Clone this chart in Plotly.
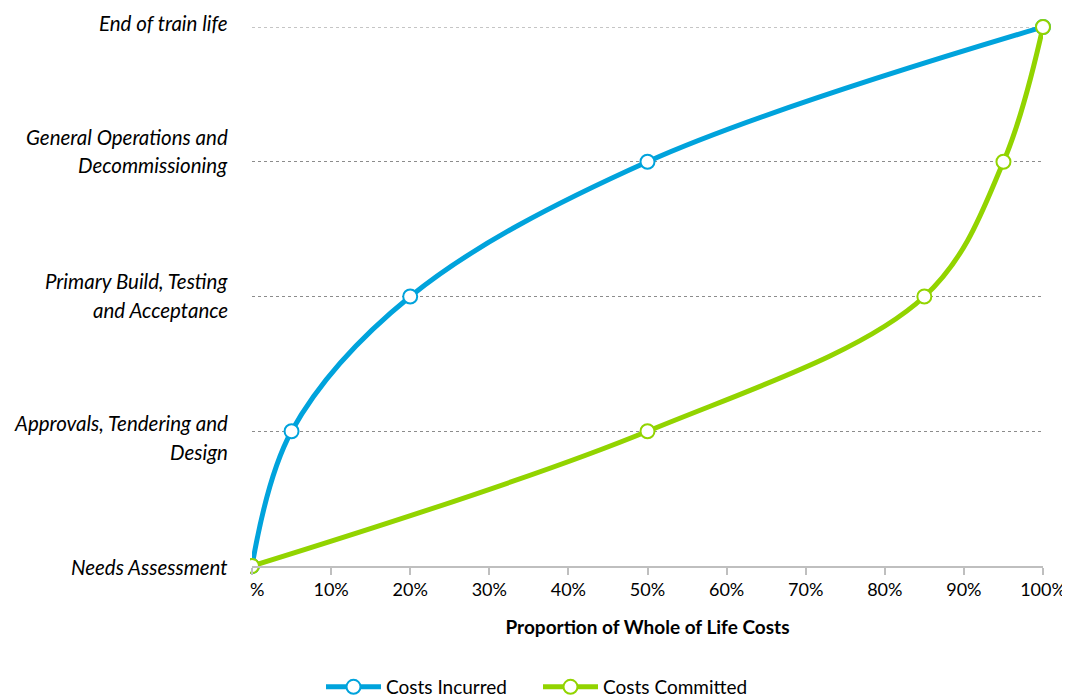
import plotly.graph_objects as go

# ---- data ----
stage_labels = [
    "Needs Assessment",
    "Approvals, Tendering and<br>Design",
    "Primary Build, Testing<br>and Acceptance",
    "General Operations and<br>Decommissioning",
    "End of train life",
]
stage_levels = [0, 1, 2, 3, 4]

incurred_x = [0, 5, 20, 50, 100]
incurred_y = [0, 1, 2, 3, 4]
committed_x = [0, 50, 85, 95, 100]
committed_y = [0, 1, 2, 3, 4]

x_ticks = [0, 10, 20, 30, 40, 50, 60, 70, 80, 90, 100]

BLUE = "#00A3DC"
GREEN = "#92D400"
FONT = "Lato"

# page body has an 8px margin; layout below is expressed in window pixels
OFF = 8
W, H = 1070 - OFF, 698 - OFF
PLOT_L, PLOT_R, PLOT_T, PLOT_B = 252, 1043, 27, 566
ML = PLOT_L - OFF
MT = PLOT_T - OFF
MR = (W + OFF) - PLOT_R
MB = (H + OFF) - PLOT_B
PW = PLOT_R - PLOT_L
PH = PLOT_B - PLOT_T

fig = go.Figure()
fig.add_trace(go.Scatter(
    x=incurred_x, y=incurred_y, name="Costs Incurred",
    mode="lines+markers", line=dict(color=BLUE, width=5, shape="spline", smoothing=1),
    marker=dict(size=14, color="white", line=dict(color=BLUE, width=2)),
    cliponaxis=False,
))
fig.add_trace(go.Scatter(
    x=committed_x, y=committed_y, name="Costs Committed",
    mode="lines+markers", line=dict(color=GREEN, width=5, shape="spline", smoothing=1),
    marker=dict(size=14, color="white", line=dict(color=GREEN, width=2)),
    cliponaxis=False,
))

# top gridline (plotly skips gridlines on the plot edge)
fig.add_shape(type="line", xref="paper", yref="y", x0=0, x1=1,
              y0=stage_levels[-1], y1=stage_levels[-1],
              line=dict(color="#8C8C8C", width=1, dash="dot"), layer="below")

# white mask left of plot area (hides part of the marker and tick label as in the original)
fig.add_shape(type="rect", xref="paper", yref="paper", x0=-0.35, x1=(250 - PLOT_L) / PW,
              y0=-0.1, y1=1.05, fillcolor="white", line=dict(width=0), layer="above")

# y stage labels (one annotation per text line)
line_centers = {
    0: [567],
    1: [423, 452],
    2: [281, 310],
    3: [137, 165],
    4: [23],
}
for lvl, lab in zip(stage_levels, stage_labels):
    parts = lab.split("<br>")
    for part, cy in zip(parts, line_centers[lvl]):
        fig.add_annotation(
            text=f"<i>{part}</i>", xref="paper", yref="paper",
            x=(230 - PLOT_L) / PW, y=(PLOT_B - cy) / PH,
            xanchor="right", yanchor="middle", showarrow=False,
            font=dict(family=FONT, size=20.5, color="#000000"),
        )

fig.update_layout(
    width=W, height=H, autosize=False,
    margin=dict(l=ML, r=MR, t=MT, b=MB, pad=0, autoexpand=False),
    paper_bgcolor="white", plot_bgcolor="white",
    font=dict(family=FONT, color="#000000"),
    showlegend=True,
    legend=dict(orientation="h", xref="container", yref="container",
                x=(538 - OFF) / W, y=1 - (687 - OFF) / H, xanchor="center", yanchor="middle",
                font=dict(family=FONT, size=19), itemwidth=55, entrywidth=147,
                traceorder="normal"),
    xaxis=dict(
        range=[0, 100], tickvals=x_ticks, ticktext=[f"{v}%" for v in x_ticks],
        showgrid=False, zeroline=False, automargin=False,
        showline=True, linecolor="#BFBFBF", linewidth=1.5,
        ticks="outside", ticklen=7, tickcolor="#BFBFBF", tickwidth=1.5,
        tickfont=dict(family=FONT, size=18, color="#000000"),
        title=dict(text="<b>Proportion of Whole of Life Costs</b>",
                   font=dict(family=FONT, size=19, color="#000000"), standoff=21),
    ),
    yaxis=dict(
        range=[0, 4], tickvals=stage_levels, showticklabels=False, automargin=False,
        showgrid=True, gridcolor="#8C8C8C", gridwidth=1, griddash="dot",
        zeroline=False, showline=False, ticks="",
    ),
)

fig.write_html("out.html")
